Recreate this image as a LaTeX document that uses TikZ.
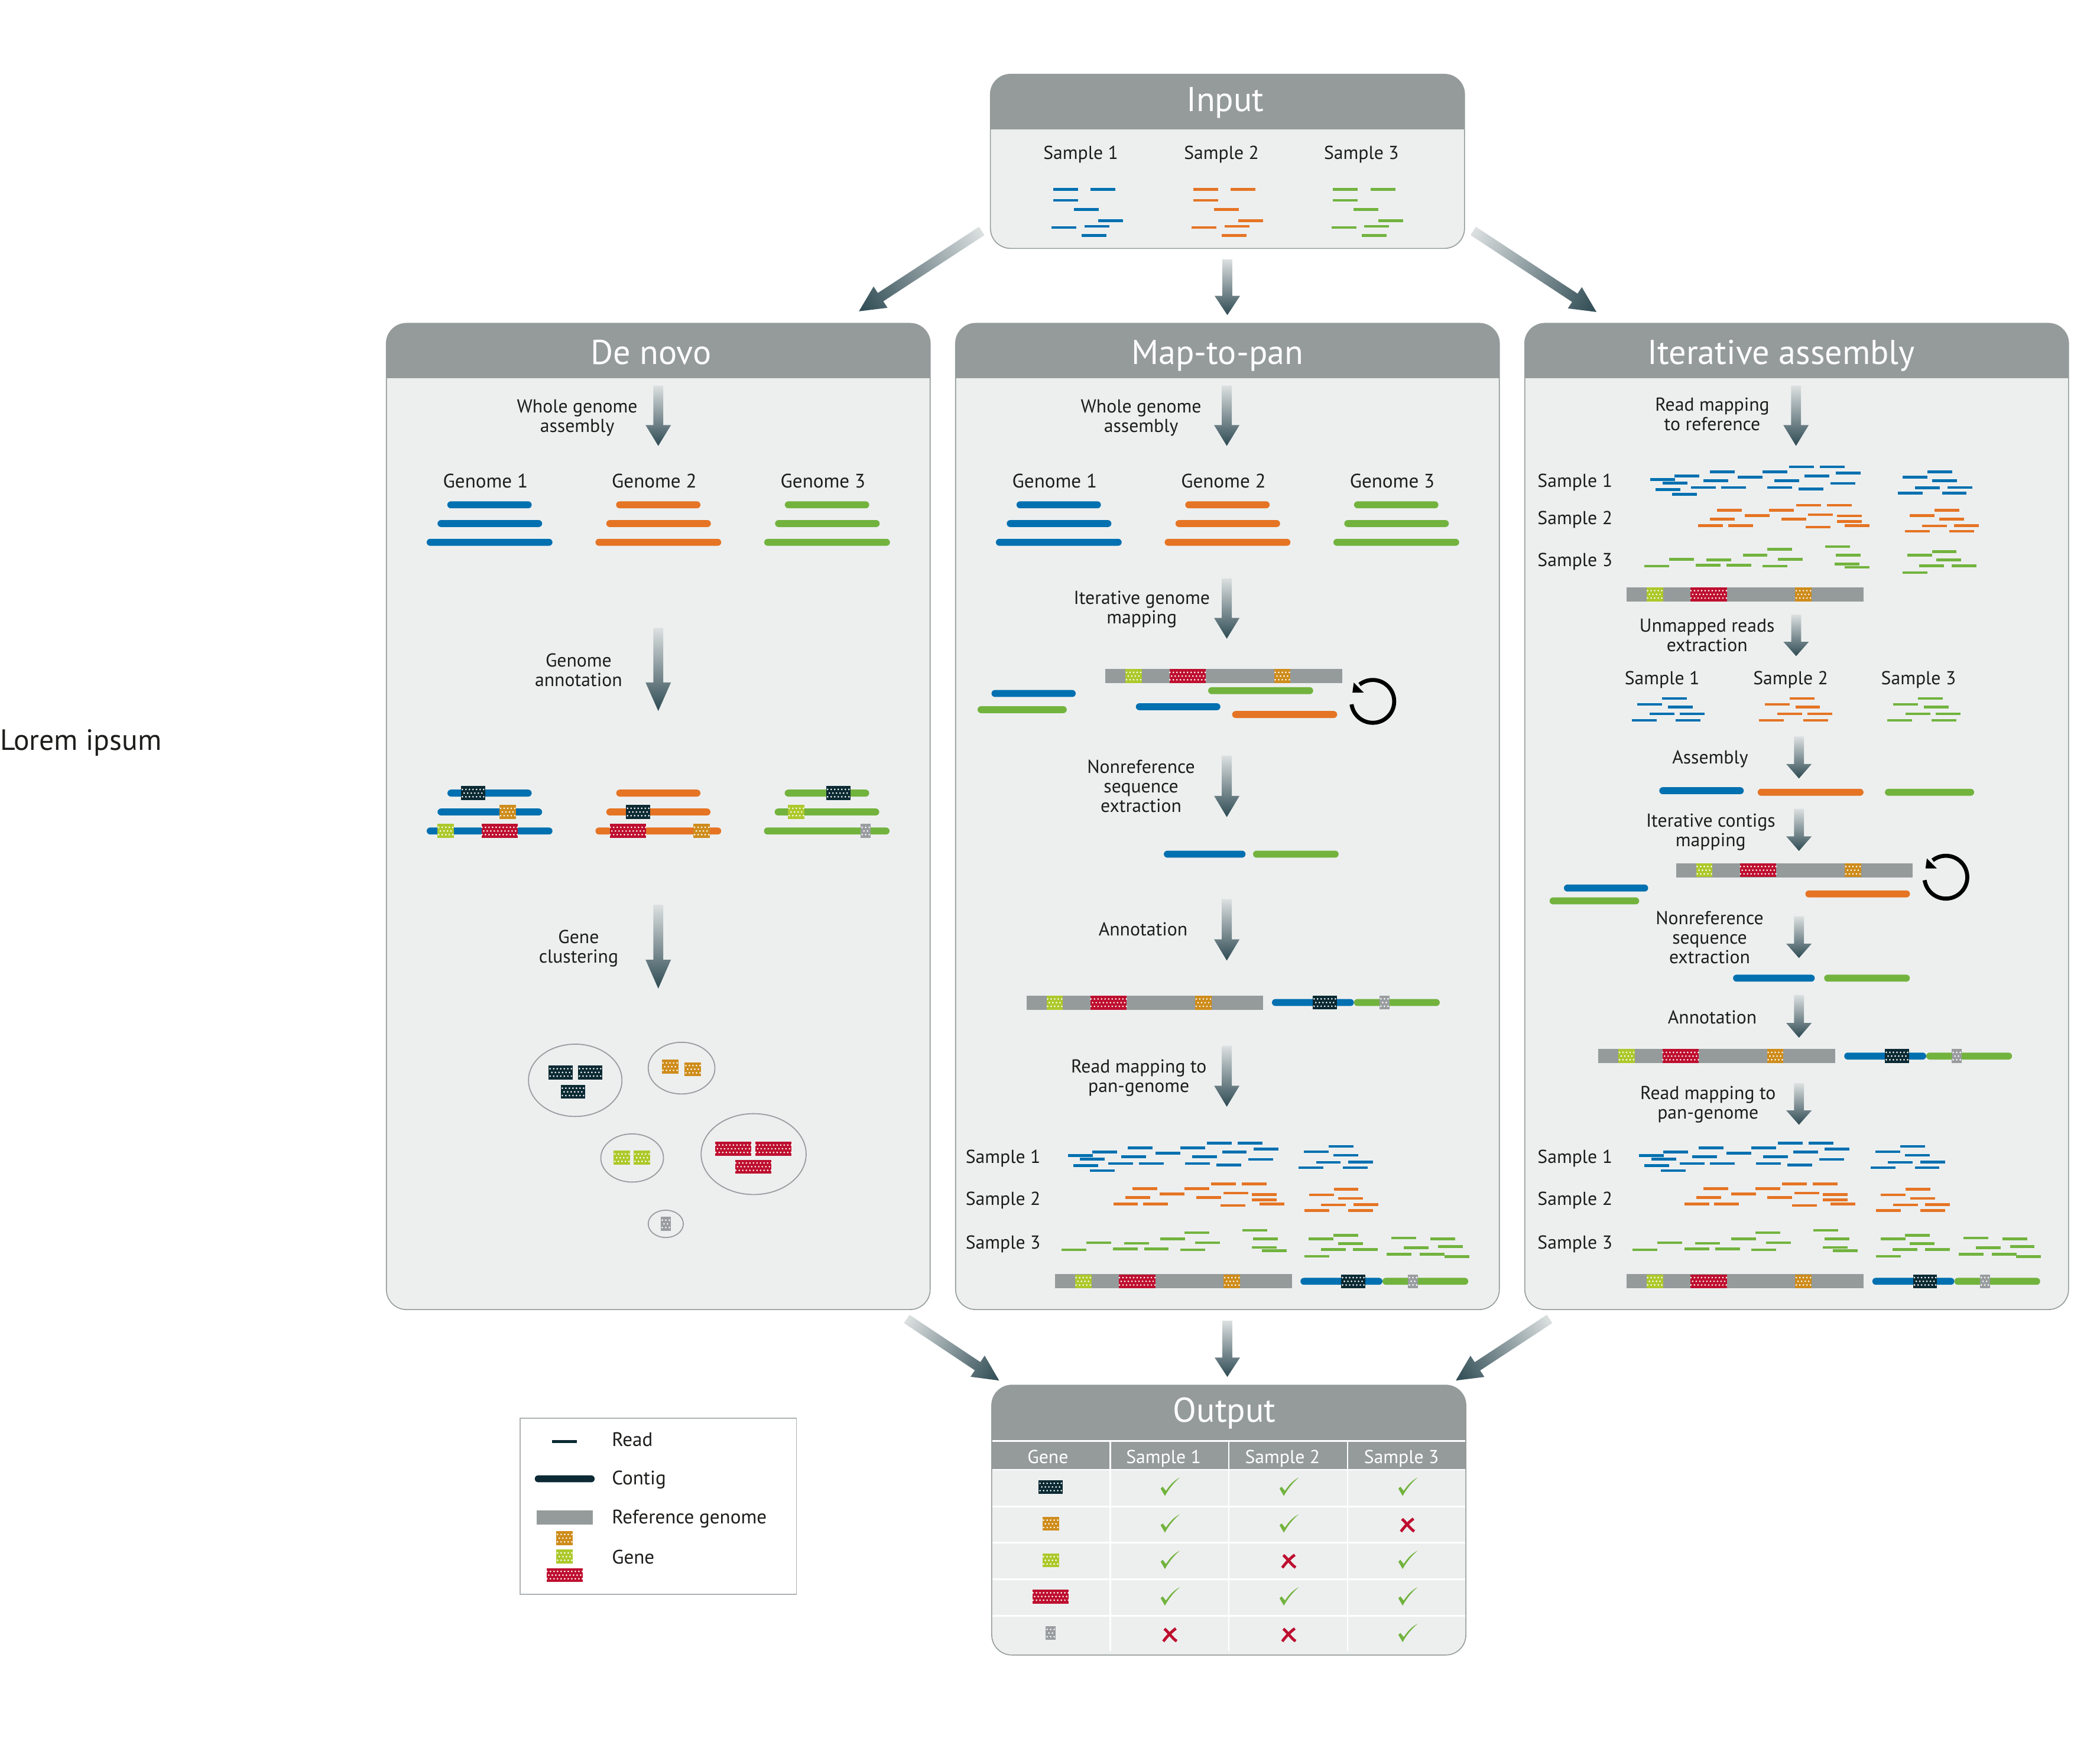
\documentclass[tikz,border=0pt]{standalone}
\usepackage{fontspec}
\usetikzlibrary{calc}
\setmainfont{PT Sans}
\definecolor{cblue}{HTML}{0070B0}
\definecolor{corange}{HTML}{E57424}
\definecolor{cgreen}{HTML}{72B33E}
\definecolor{cdark}{HTML}{0B2A33}
\definecolor{gor}{HTML}{CE8C1B}
\definecolor{glime}{HTML}{ACC92B}
\definecolor{gred}{HTML}{BE0F2F}
\definecolor{ggrey}{HTML}{999DA0}
\definecolor{hdr}{HTML}{959B9B}
\definecolor{body}{HTML}{EDEFEF}
\definecolor{ink}{HTML}{1D1D1B}
\definecolor{arlight}{HTML}{DCE0E0}
\definecolor{ardark}{HTML}{2E4A53}
\tikzset{
  lab/.style={inner sep=0pt,align=center,text=ink,font=\fontsize{14}{14.5}\selectfont},
  biglab/.style={lab,font=\fontsize{14.6}{15}\selectfont},
  title/.style={inner sep=0pt,anchor=base,text=white,font=\fontsize{25.7}{28}\selectfont},
  thead/.style={inner sep=0pt,text=white,font=\fontsize{14}{15}\selectfont},
  cluster/.style={draw=ggrey,line width=0.8pt},
}
\newcommand\lbl[4]{\node[lab] (#1) at (#2,#3) {#4};}
\newcommand\genlbl[3]{\node[biglab] (#1) at (#2,359) {#3};}
\newcommand\contig[4]{\fill[#4,rounded corners=2.6pt] (#1,#3-2.6) rectangle (#2,#3+2.6);}
\newcommand\gene[3]{% centre x, centre y, width; colour comes from \gcol
  \fill[\gcol] ({#1-#3/2},{#2-5.2}) rectangle ({#1+#3/2},{#2+5.2});
  \pgfmathtruncatemacro\gna{floor((#3/2)/2.65)}
  \pgfmathtruncatemacro\gnb{floor((#3/2)/2.65-0.5)}
  \pgfmathtruncatemacro\gnma{-\gna}
  \pgfmathtruncatemacro\gnmb{-\gnb-1}
  \foreach \gi in {\gnma,...,\gna}{
    \fill[white] ({#1+\gi*2.65},{#2-2.75}) circle (0.65);
    \fill[white] ({#1+\gi*2.65},{#2+2.75}) circle (0.65);}
  \foreach \gi in {\gnmb,...,\gnb}{
    \fill[white] ({#1+(\gi+.5)*2.65},{#2}) circle (0.65);}
}
\newcommand\gdark[2]{\def\gcol{cdark}\gene{#1}{#2}{17.9}}
\newcommand\gorange[2]{\def\gcol{gor}\gene{#1}{#2}{12.3}}
\newcommand\glimeg[2]{\def\gcol{glime}\gene{#1}{#2}{12.3}}
\newcommand\gredg[2]{\def\gcol{gred}\gene{#1}{#2}{27}}
\newcommand\ggreyg[2]{\def\gcol{ggrey}\gene{#1}{#2}{7.5}}
\newcommand\refstrip[2]{%
  \fill[hdr] (#1,#2-5.3) rectangle ({#1+176.8},#2+5.3);
  \glimeg{#1+21}{#2}\gredg{#1+61.3}{#2}\gorange{#1+132}{#2}}
\newcommand\annot[2]{%
  \contig{#1}{#1+61.2}{#2}{cblue}\contig{#1+61.2}{#1+125.3}{#2}{cgreen}
  \gdark{#1+39.4}{#2}\ggreyg{#1+84}{#2}}
\newcommand\readset[6]{%
  \foreach \ra/\rb in #1 {\fill[#6] ({#2+#3*\ra},{#4+#5*\rb-1}) rectangle +(18.5,2);}}
\newcommand\garrow[4]{%
  \path let \p1=(#1),\p2=(#2) in \pgfextra{%
    \pgfmathsetmacro\gang{atan2(\y2-\y1,\x2-\x1)}%
    \pgfmathsetmacro\glen{veclen(\x2-\x1,\y2-\y1)}%
    \xdef\gax{\x1}\xdef\gay{\y1}\xdef\gAng{\gang}\xdef\gLen{\glen}};
  \pgfmathsetmacro\gh{\gLen-#3}
  \pgfmathsetmacro\hw{#4/2}
  \shade[transform canvas={shift={(\gax,\gay)},rotate=\gAng},left color=arlight,right color=ardark,middle color=ardark!50!arlight]
    (0pt,-3.7pt) -- (\gh pt,-3.7pt) -- (\gh pt,-\hw pt) -- (\gLen pt,0pt) -- (\gh pt,\hw pt) -- (\gh pt,3.7pt) -- (0pt,3.7pt) -- cycle;}
\newcommand\flow[4]{%
  \coordinate (#1s) at (#2,#3); \coordinate (#1e) at (#2,#4);
  \pgfmathsetmacro\fh{0.345*(#4-#3)}
  \garrow{#1s}{#1e}{\fh}{19}}
\newcommand\cmk[2]{\fill[cgreen,shift={(#1,#2)}] (-6.9,1.5) -- (-5.4,0.1) -- (-2.9,3.2) .. controls (0,-1.2) and (3,-4.4) .. (7.5,-6.8) .. controls (3,-3) and (-1,2) .. (-3.7,7) -- cycle;}
\newcommand\xmk[2]{\draw[gred,line width=2.1pt,shift={(#1,#2)}] (-4.2,-4.6) .. controls (-1,-2) and (2,3) .. (5,4.6) (4.4,-4.8) .. controls (1,-2.5) and (-3,2) .. (-5,4.8);}
\newcommand\loopicon[2]{%
  \draw[black,line width=3pt,shift={(#1,#2)}] plot[domain=172:-128,samples=50,smooth] ({16*cos(\x)},{16*sin(\x)});
  \fill[black,shift={(#1,#2)}] (-15.2,-6.5) -- (-6.7,-6.5) -- (-14.2,-14) -- cycle;}
\newcommand\panel[5]{%
  \fill[body,rounded corners=15pt] (#1,#2) rectangle (#3,#4);
  \begin{scope}
    \clip[rounded corners=15pt] (#1,#2) rectangle (#3,#4);
    \fill[hdr] (#1,#2) rectangle (#3,#5);
  \end{scope}
  \draw[hdr,line width=0.7pt,rounded corners=15pt] (#1,#2) rectangle (#3,#4);}
% read patterns (source coordinates)
\def\BlueMain{317/113,385/102,351/124,332/145,378/160,430/138,465/117,515/138,484/89,561/106,630/89,664/117,644/138,731/143,705/74,790/74,747/102,835/93,820/125}
\def\BlueExtra{1022/106,1091/89,1104/117,1056/139,1146/138,1008/156,1131/156}
\def\OrMain{504/209,581/226,484/237,451/257,534/257,649/209,683/237,724/194,810/194,758/223,838/227,838/244,859/257,751/262}
\def\OrExtra{1041/226,1110/209,1123/237,1075/258,1165/257,1028/275,1151/275}
\def\GrMain{300/384,369/362,474/364,444/381,530/381,575/350,643/331,673/362,631/384,805/323,835/350,831/377,859/387}
\def\GrExtra{1034/350,1103/338,1116/364,1068/383,1158/383,1022/404}
\def\GrSecond{1039/924.5,1068.1/925.3,1048.3/931.8,1073.7/931,1035.5/936.8,1060.1/936.8,1078.5/938.4}
\def\Mini{350/797,281/815,366/824,315/845,400/845,265/865,388/865}
\def\InputReads{230/661,340/661,230/717,291/764,363/820,225/855,322/849,314/896}
\begin{document}
\begin{tikzpicture}[x=1pt,y=-1pt]
\useasboundingbox (0,0) rectangle (1568,1303.2);
\fill[white] (0,0) rectangle (1568,1303.2);

\node[lab,anchor=west,font=\fontsize{21.9}{24}\selectfont] (lorem) at (0,554.5) {Lorem ipsum};

%% Panels
\panel{739.5}{55.5}{1093.5}{185.5}{96.5}\node[title] (input) at (914.8,83) {Input};
\panel{288.5}{241.5}{694.5}{978}{282.5}\node[title] (denovo) at (486,272) {De novo};
\panel{713.5}{241.5}{1119.5}{978}{282.5}\node[title] (mappan) at (909,272) {Map-to-pan};
\panel{1138.5}{241.5}{1544.5}{978}{282.5}\node[title] (iter) at (1330,272) {Iterative assembly};

%% Input contents
\lbl{inS1}{807}{115.2}{Sample 1}\lbl{inS2}{912}{115.2}{Sample 2}\lbl{inS3}{1016.5}{115.2}{Sample 3}
\readset{\InputReads}{728.1}{.2533}{44.1}{.1471}{cblue}
\readset{\InputReads}{832.7}{.2533}{44.1}{.1471}{corange}
\readset{\InputReads}{937.1}{.2533}{44.1}{.1471}{cgreen}

%% Between panels
\coordinate (dA) at (733,172.5); \coordinate (dB) at (641.3,232.5);
\coordinate (dC) at (1100,172.5); \coordinate (dD) at (1192,233);
\coordinate (dE) at (677,985); \coordinate (dF) at (746,1031);
\coordinate (dG) at (1157,985); \coordinate (dH) at (1087,1031);
\garrow{dA}{dB}{19.3}{19}\garrow{dC}{dD}{19.3}{19}\garrow{dE}{dF}{19.3}{19}\garrow{dG}{dH}{19.3}{19}
\flow{fI}{916.4}{193.7}{235.3}
\flow{fO}{916.4}{986.3}{1028.3}

%% De novo
\flow{dn1}{491.5}{288}{333}\lbl{dnl1}{431}{312}{Whole genome\\assembly}
\genlbl{dng1}{362.5}{Genome 1}\genlbl{dng2}{488.5}{Genome 2}\genlbl{dng3}{614.5}{Genome 3}
\foreach \cc/\oo in {cblue/0,corange/126,cgreen/252}{
  \contig{334+\oo}{397+\oo}{377}{\cc}\contig{326.7+\oo}{404.8+\oo}{391}{\cc}\contig{318.6+\oo}{412.5+\oo}{405}{\cc}}
\flow{dn2}{491.5}{469}{531}\lbl{dnl2}{432}{500.5}{Genome\\annotation}
\contig{334.1}{397}{592.3}{cblue}\gdark{353.2}{592.3}
\contig{326.7}{404.8}{606.4}{cblue}\gorange{379.1}{606.4}
\contig{318.6}{412.5}{620.6}{cblue}\glimeg{332.8}{620.6}\gredg{373.1}{620.6}
\contig{460.1}{523}{592.3}{corange}
\contig{452.7}{530.5}{606.4}{corange}\gdark{476.5}{606.4}
\contig{444.6}{538.5}{620.6}{corange}\gredg{468.8}{620.6}\gorange{523.9}{620.6}
\contig{585.9}{649}{592.3}{cgreen}\gdark{625.9}{592.3}
\contig{578.4}{656.5}{606.4}{cgreen}\glimeg{594.6}{606.4}
\contig{570.4}{664.2}{620.6}{cgreen}\ggreyg{646.4}{620.6}
\flow{dn3}{491.5}{675.7}{738.3}\lbl{dnl3}{432}{708.5}{Gene\\clustering}
\draw[cluster] (429.5,806.8) ellipse [x radius=34.9,y radius=27];
\gdark{418.7}{800.9}\gdark{440.6}{800.9}\gdark{427.8}{815.4}
\draw[cluster] (508.9,797.7) ellipse [x radius=24.9,y radius=19.3];
\gorange{500.3}{796.6}\gorange{517.4}{798.5}
\draw[cluster] (472,864.8) ellipse [x radius=23.4,y radius=18];
\glimeg{464.4}{864.6}\glimeg{479.4}{864.6}
\draw[cluster] (562.7,861.9) ellipse [x radius=39.2,y radius=30.2];
\gredg{547.6}{857.9}\gredg{577.6}{857.9}\gredg{562.6}{871.3}
\draw[cluster] (497.1,914) ellipse [x radius=13.1,y radius=10.2];
\ggreyg{497.1}{914}

%% Map-to-pan
\flow{mp1}{916}{288}{333}\lbl{mpl1}{852}{312}{Whole genome\\assembly}
\genlbl{mpg1}{787.5}{Genome 1}\genlbl{mpg2}{913.5}{Genome 2}\genlbl{mpg3}{1039.5}{Genome 3}
\foreach \cc/\oo in {cblue/425,corange/551,cgreen/677}{
  \contig{334+\oo}{397+\oo}{377}{\cc}\contig{326.7+\oo}{404.8+\oo}{391}{\cc}\contig{318.6+\oo}{412.5+\oo}{405}{\cc}}
\flow{mp2}{916}{432}{477}\lbl{mpl2}{852.5}{455.2}{Iterative genome\\mapping}
\refstrip{825.4}{504.9}
\contig{902.1}{980.5}{515.8}{cgreen}
\contig{740.3}{803.2}{517.9}{cblue}
\contig{729.9}{796.5}{530}{cgreen}
\contig{848.1}{911.2}{527.8}{cblue}
\contig{920}{998.4}{533.6}{corange}
\loopicon{1025}{523.8}
\flow{mp3}{916}{564.3}{610.2}\lbl{mpl3}{852}{587}{Nonreference\\sequence\\extraction}
\contig{869}{930}{637.9}{cblue}\contig{935.6}{999.5}{637.9}{cgreen}
\flow{mp4}{916}{671.5}{717.4}\lbl{mpl4}{853.5}{694}{Annotation}
\refstrip{766.5}{748.8}
\annot{949.7}{748.7}
\flow{mp5}{916}{781}{826.5}\lbl{mpl5}{850.3}{805}{Read mapping to\\pan-genome}
\lbl{mps1}{749}{865.3}{Sample 1}\lbl{mps2}{749}{896.3}{Sample 2}\lbl{mps3}{749}{929.3}{Sample 3}
\readset{\BlueMain}{712.6}{.2675}{835.9}{.2392}{cblue}
\readset{\OrMain}{710.6}{.2675}{837.7}{.2392}{corange}
\readset{\GrMain}{712.4}{.2675}{841.5}{.2392}{cgreen}
\readset{\BlueExtra}{700.1}{.2675}{834.8}{.2392}{cblue}
\readset{\OrExtra}{698.9}{.2675}{838.2}{.2392}{corange}
\readset{\GrExtra}{700.5}{.2675}{841.6}{.2392}{cgreen}
\readset{\GrSecond}{0}{1}{0}{1}{cgreen}
\refstrip{787.8}{956.9}
\annot{971}{956.9}

%% Iterative assembly
\flow{it1}{1341}{288}{333}\lbl{itl1}{1278.5}{309.5}{Read mapping\\to reference}
\lbl{its1}{1176}{360.3}{Sample 1}\lbl{its2}{1176}{388.3}{Sample 2}\lbl{its3}{1176}{419.3}{Sample 3}
\readset{\BlueMain}{1147.4}{.2675}{331}{.2392}{cblue}
\readset{\BlueExtra}{1147.4}{.2675}{331}{.2392}{cblue}
\readset{\OrMain}{1147.4}{.2675}{331}{.2392}{corange}
\readset{\OrExtra}{1147.4}{.2675}{331}{.2392}{corange}
\readset{\GrMain}{1147.4}{.2675}{331}{.2392}{cgreen}
\readset{\GrExtra}{1147.4}{.2675}{331}{.2392}{cgreen}
\refstrip{1214.5}{443.9}
\flow{it2}{1341.1}{459}{490}\lbl{itl2}{1274.6}{474.5}{Unmapped reads\\extraction}
\lbl{itm1}{1241}{507.8}{Sample 1}\lbl{itm2}{1337}{507.8}{Sample 2}\lbl{itm3}{1432.5}{507.8}{Sample 3}
\readset{\Mini}{1147.4}{.2675}{331}{.2392}{cblue}
\readset{\Mini}{1242.6}{.2675}{331}{.2392}{corange}
\readset{\Mini}{1338.4}{.2675}{331}{.2392}{cgreen}
\flow{it3}{1343.2}{550}{581.4}\lbl{itl3}{1276.9}{566.9}{Assembly}
\contig{1238.9}{1302}{590.5}{cblue}\contig{1312.4}{1391.4}{591.7}{corange}\contig{1407.4}{1474}{591.7}{cgreen}
\flow{it4}{1343.2}{604}{635.5}\lbl{itl4}{1277.3}{621.4}{Iterative contigs\\mapping}
\refstrip{1251.5}{649.9}
\contig{1167.7}{1230.6}{663.2}{cblue}\contig{1157}{1223.9}{672.8}{cgreen}\contig{1348}{1426.1}{667.6}{corange}
\loopicon{1452.9}{655.1}
\flow{it5}{1343.2}{684.3}{715.5}\lbl{itl5}{1276.5}{700}{Nonreference\\sequence\\extraction}
\contig{1294}{1355}{730.5}{cblue}\contig{1362}{1426}{730.5}{cgreen}
\flow{it6}{1343.2}{743}{775}\lbl{itl6}{1278.5}{759.7}{Annotation}
\refstrip{1193.5}{788.7}
\annot{1377}{788.7}
\flow{it7}{1343.2}{809}{840}\lbl{itl7}{1275.3}{825}{Read mapping to\\pan-genome}
\lbl{itb1}{1176}{865.3}{Sample 1}\lbl{itb2}{1176}{896.3}{Sample 2}\lbl{itb3}{1176}{929.3}{Sample 3}
\readset{\BlueMain}{1139}{.2675}{835.9}{.2392}{cblue}
\readset{\OrMain}{1137}{.2675}{837.7}{.2392}{corange}
\readset{\GrMain}{1138.8}{.2675}{841.5}{.2392}{cgreen}
\readset{\BlueExtra}{1127.1}{.2675}{834.8}{.2392}{cblue}
\readset{\OrExtra}{1125.9}{.2675}{838.2}{.2392}{corange}
\readset{\GrExtra}{1127.5}{.2675}{841.6}{.2392}{cgreen}
\readset{\GrSecond}{427}{1}{0}{1}{cgreen}
\refstrip{1214.5}{956.9}
\annot{1398}{956.9}

%% Output
\panel{740.5}{1034.5}{1094.5}{1236}{1097.6}\node[title] (output) at (914.3,1062) {Output};
\draw[white,line width=1.1pt] (741,1076.2) -- (1094,1076.2);
\foreach \vx in {829,917.5,1006.3}{\draw[white,line width=1.1pt] (\vx,1076.2) -- (\vx,1233);}
\foreach \hy in {1097.6,1125.2,1152,1179.5,1206.8}{\draw[white,line width=1.1pt] (741,\hy) -- (1094,\hy);}
\node[thead] (oG) at (782.4,1088) {Gene};
\node[thead] (oS1) at (868.8,1089.2) {Sample 1};
\node[thead] (oS2) at (957.6,1089.2) {Sample 2};
\node[thead] (oS3) at (1046.4,1089.2) {Sample 3};
\gdark{784.5}{1110.5}\gorange{784.5}{1138}\glimeg{784.5}{1165.3}\gredg{784.5}{1192.3}\ggreyg{784.5}{1219.6}
\cmk{873.5}{1110.2}\cmk{962.3}{1110.2}\cmk{1051}{1110.2}
\cmk{873.5}{1137.6}\cmk{962.3}{1137.6}\xmk{1051}{1139}
\cmk{873.5}{1164.8}\xmk{962.4}{1166}\cmk{1051}{1164.8}
\cmk{873.5}{1192.1}\cmk{962.3}{1192.1}\cmk{1051}{1192.1}
\xmk{873.6}{1221}\xmk{962.4}{1221}\cmk{1051}{1219.4}

%% Legend
\draw[ggrey!80,line width=0.8pt] (388.3,1059.1) rectangle (594.7,1190.5);
\draw[cdark,line width=2pt] (412.4,1076.6) -- (430.7,1076.6);
\contig{399.3}{444}{1104.4}{cdark}
\fill[hdr] (400.6,1127.9) rectangle (442.5,1138.5);
\gorange{421.6}{1148.7}\glimeg{421.6}{1162.5}\gredg{421.6}{1176.3}
\node[biglab,anchor=west] (lgR) at (456.7,1075) {Read};
\node[biglab,anchor=west] (lgC) at (456.7,1105.2) {Contig};
\node[biglab,anchor=west] (lgF) at (456.7,1134.2) {Reference genome};
\node[biglab,anchor=west] (lgG) at (456.7,1162.8) {Gene};
\end{tikzpicture}
\end{document}
